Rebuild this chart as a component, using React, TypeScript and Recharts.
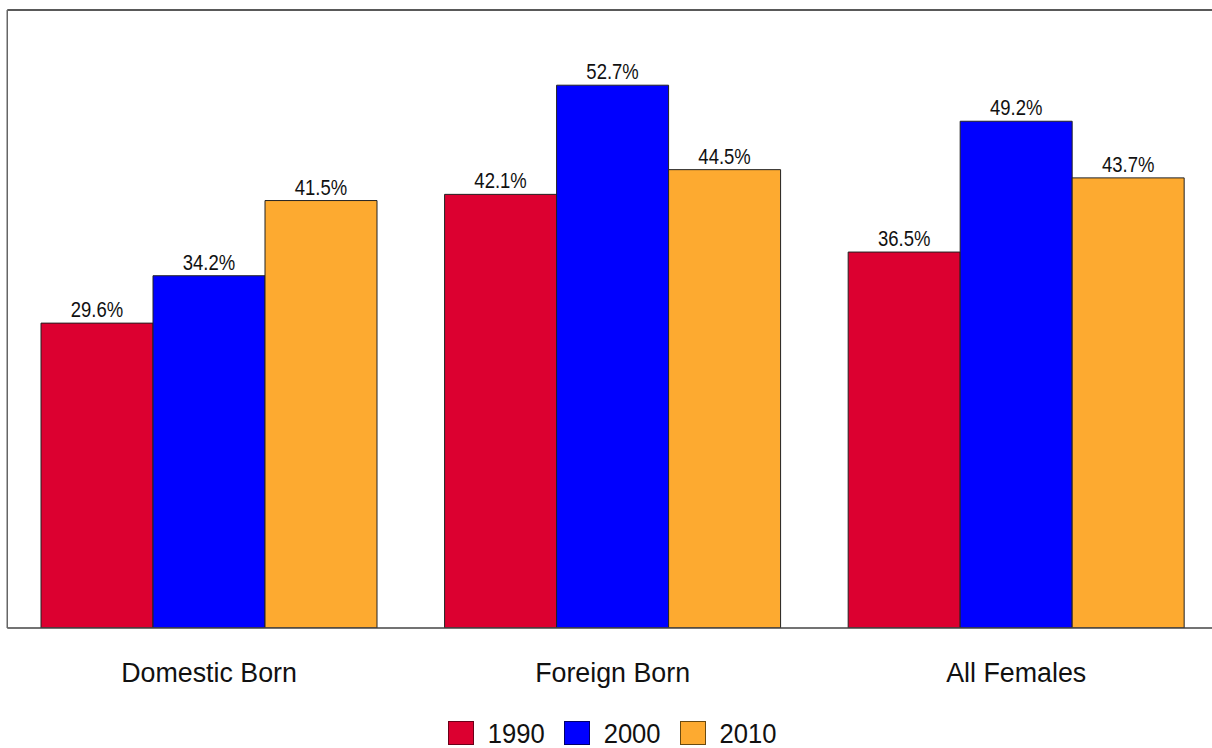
import { BarChart, Bar, XAxis, YAxis, Legend, LabelList } from 'recharts';

const categories = ['Domestic Born', 'Foreign Born', 'All Females'];
const years = ['1990', '2000', '2010'];
const values1990 = [29.6, 42.1, 36.5];
const values2000 = [34.2, 52.7, 49.2];
const values2010 = [41.5, 44.5, 43.7];

const COLORS = ['#DC0030', '#0000FF', '#FDAA30'];
const STROKES = ['#6a0018', '#00006a', '#6a4a10'];
const FONT = '"Liberation Sans", Arial, Helvetica, sans-serif';

const data = categories.map((name, i) => ({
  name,
  y1990: values1990[i],
  y2000: values2000[i],
  y2010: values2010[i],
}));

function ValueLabel(props: any) {
  const { x, y, width, value } = props;
  const cx = Number(x) + Number(width) / 2;
  const by = Number(y) - 6;
  return (
    <text
      transform={`translate(${cx},${by}) scale(1,1.15)`}
      x={0}
      y={0}
      textAnchor="middle"
      fontFamily={FONT}
      fontSize={18.5}
      fill="#111"
    >
      {`${Number(value).toFixed(1)}%`}
    </text>
  );
}

function CategoryTick(props: any) {
  const { x, y, payload } = props;
  return (
    <text x={x} y={y + 46} textAnchor="middle" fontFamily={FONT} fontSize={26.8} fill="#111">
      {payload.value}
    </text>
  );
}

function LegendContent() {
  return (
    <div style={{ display: 'flex', justifyContent: 'center', alignItems: 'center', height: 28, paddingTop: 9 }}>
      {years.map((yr, i) => (
        <div key={yr} style={{ display: 'flex', alignItems: 'center', marginRight: i < 2 ? 19 : 0 }}>
          <span
            style={{
              display: 'inline-block',
              width: 24,
              height: 22,
              background: COLORS[i],
              border: `1px solid ${STROKES[i]}`,
              marginRight: 14,
            }}
          />
          <span
            style={{
              fontFamily: FONT,
              fontSize: 25.6,
              color: '#111',
              display: 'inline-block',
              transform: 'scaleY(1.1)',
              lineHeight: '24px',
            }}
          >
            {yr}
          </span>
        </div>
      ))}
    </div>
  );
}

export default function App() {
  return (
    <div
      style={{
        position: 'absolute',
        left: 0,
        top: 0,
        width: 1212,
        height: 748,
        overflow: 'hidden',
        background: '#fff',
      }}
    >
      <BarChart
        width={1230}
        height={748}
        data={data}
        margin={{ top: 9, right: 12, left: 6.25, bottom: 0 }}
        barCategoryGap={33.75}
        barGap={0}
      >
        <XAxis
          dataKey="name"
          height={82}
          tick={<CategoryTick />}
          tickLine={false}
          axisLine={{ stroke: '#444', strokeWidth: 1.5 }}
          interval={0}
        />
        <XAxis
          xAxisId="top"
          dataKey="name"
          orientation="top"
          height={1}
          tick={false}
          tickLine={false}
          axisLine={{ stroke: '#222', strokeWidth: 1.5 }}
        />
        <YAxis
          width={1}
          domain={[0, 60]}
          allowDataOverflow
          tick={false}
          tickLine={false}
          axisLine={{ stroke: '#666', strokeWidth: 1.5 }}
        />
        <Legend verticalAlign="bottom" content={<LegendContent />} wrapperStyle={{ height: 38 }} />
        <Bar dataKey="y1990" name="1990" fill={COLORS[0]} stroke="#222" strokeWidth={1} isAnimationActive={false}>
          <LabelList dataKey="y1990" content={<ValueLabel />} />
        </Bar>
        <Bar dataKey="y2000" name="2000" fill={COLORS[1]} stroke="#222" strokeWidth={1} isAnimationActive={false}>
          <LabelList dataKey="y2000" content={<ValueLabel />} />
        </Bar>
        <Bar dataKey="y2010" name="2010" fill={COLORS[2]} stroke="#222" strokeWidth={1} isAnimationActive={false}>
          <LabelList dataKey="y2010" content={<ValueLabel />} />
        </Bar>
      </BarChart>
    </div>
  );
}
